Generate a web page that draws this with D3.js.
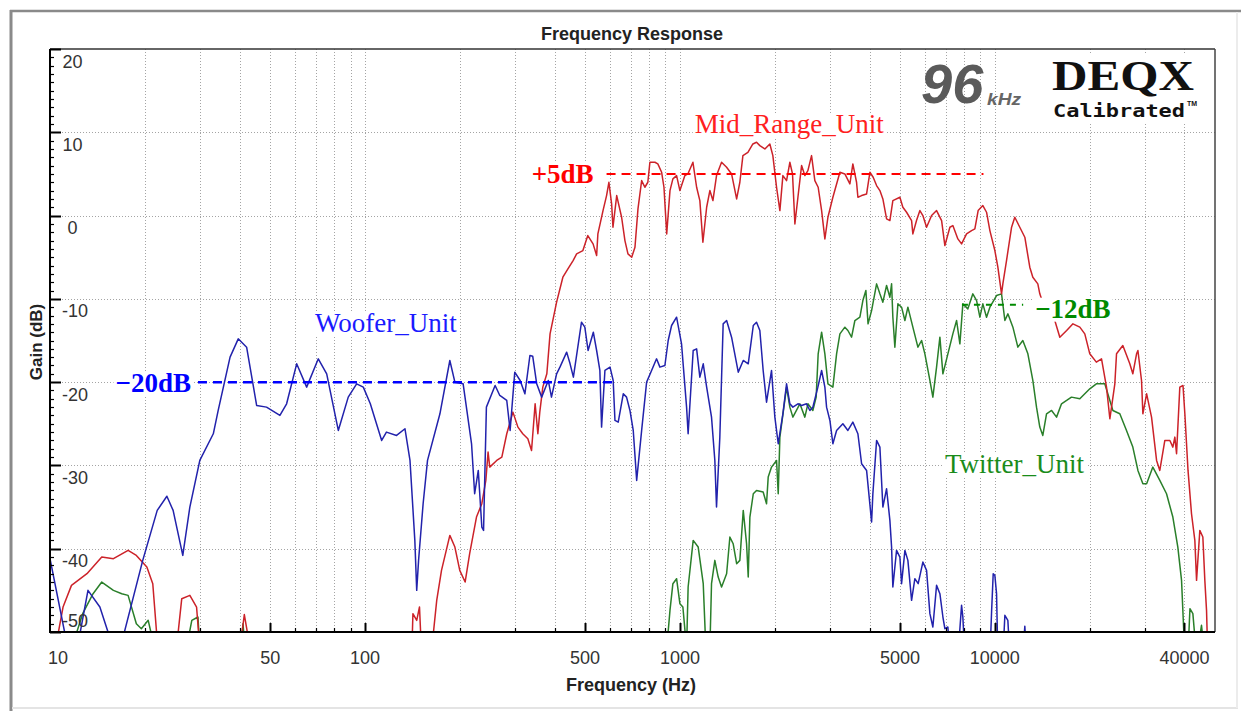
<!DOCTYPE html>
<html>
<head>
<meta charset="utf-8">
<script src="https://cdn.jsdelivr.net/npm/d3@7"></script>
<style>
  body { margin: 0; background: #fff; }
  svg { display: block; }
  text { font-family: "Liberation Sans", Arial, sans-serif; }
</style>
</head>
<body>
<svg id="chart" width="1241" height="711"></svg>
<script>
// tick labels
let freqTicks = [10, 50, 100, 500, 1000, 5000, 10000, 40000];
let gainTicks = [20, 10, 0, -10, -20, -30, -40, -50];

// measured curves: [frequency Hz, gain dB]
let woofer = [
  [10,-41.2],[11.4,-52],[12.2,-52],[13.2,-45],[14.4,-47],[15.9,-52],[16.7,-52],[19.7,-41.4],[21.9,-35.4],[23.5,-33.7],
  [24.6,-35.4],[26.4,-40.8],[27.8,-35],[29.9,-29.4],[33,-26.2],[34.2,-23.4],[37.3,-17],[39.6,-14.8],[42.1,-15.8],[45.3,-22.8],
  [48.7,-23],[53.7,-24],[56.4,-22.6],[60.7,-17.8],[65.3,-20.6],[71.1,-17.2],[75.6,-19],[82.3,-25.8],[88.5,-21.8],[94.1,-20.2],
  [98.8,-20.6],[104,-22.6],[113,-27],[117,-26],[126,-26.4],[134,-25.6],[139,-29.4],[144,-39],[146,-45],[148,-41.4],
  [153,-34.6],[158,-29.4],[173,-23.8],[186,-17.4],[193,-20],[205,-20.2],[218,-27.4],[223,-33.4],[229,-30.6],[235,-37.4],
  [238,-37.8],[240,-31.8],[243,-23],[259,-20.4],[268,-21.6],[282,-22.2],[289,-25.8],[299,-18.8],[311,-19.8],[322,-21.4],
  [334,-16.8],[341,-16.9],[351,-20.2],[364,-21.8],[382,-19.8],[391,-21.8],[406,-19],[416,-18.2],[437,-16.4],[448,-17.8],
  [459,-19.4],[487,-12.8],[499,-13.4],[511,-16.2],[531,-14],[544,-16.2],[557,-18.6],[564,-25.4],[578,-18.6],[600,-18.2],
  [614,-19.8],[622,-24.6],[637,-24.8],[661,-21.4],[677,-21.8],[694,-23.4],[711,-25.8],[729,-31.8],[756,-25.8],[784,-20],
  [813,-18.6],[843,-17.2],[864,-18.2],[896,-18],[918,-15],[941,-13.2],[976,-12.2],[1012,-15.4],[1050,-23],[1062,-26.2],
  [1102,-16.2],[1130,-16],[1157,-19.4],[1186,-17.8],[1216,-20.6],[1260,-24.2],[1291,-29.4],[1307,-35],[1339,-26.6],[1372,-13],
  [1407,-12.6],[1459,-14.6],[1532,-18.8],[1589,-17.4],[1648,-17.8],[1710,-13.2],[1751,-12.8],[1794,-13.8],[1838,-18.6],[1884,-22.4],
  [1954,-18.6],[2002,-24.2],[2052,-27.4],[2123,-23.8],[2181,-20.2],[2234,-22.6],[2284,-23],[2370,-22.6],[2434,-22.8],[2524,-22.6],
  [2586,-23.4],[2643,-23],[2742,-20.6],[2818,-18.6],[2886,-20.6],[2922,-23],[2994,-24.6],[3060,-27.4],[3144,-25.8],[3292,-25],
  [3415,-25.8],[3541,-24.8],[3674,-26.2],[3775,-29.8],[3915,-30.6],[4061,-36.8],[4099,-33.4],[4212,-27],[4315,-27.8],[4410,-35],
  [4531,-32.8],[4642,-36.6],[4700,-39.8],[4744,-44.6],[4874,-40.2],[4994,-41],[5056,-44.2],[5181,-40.2],[5295,-41.4],[5440,-46.2],
  [5572,-43.6],[5709,-44.2],[5908,-41.6],[6070,-42.6],[6219,-47.8],[6356,-49.4],[6530,-44.4],[6691,-45.4],[6840,-48.2],[6939,-49.6],
  [7094,-49.4],[7198,-53],[7631,-53],[7840,-46.8],[7914,-48.2],[8031,-53],[9643,-53],[9763,-47.6],[9880,-43],[10000,-43.2],
  [10125,-45.4],[10222,-53],[10602,-53],[10760,-48],[10997,-48.6],[11160,-53],[12270,-53],[12450,-49.3],[12600,-53],[13000,-60]
];

let midRange = [
  [10.4,-52],[11,-47],[11.7,-44.4],[13.1,-43],[14.6,-41],[15.9,-41.2],[17.7,-40.2],[18.8,-40.8],[20.3,-42.2],[21.2,-44.2],
  [22,-52],[25.2,-52],[26.2,-46],[27.8,-45.6],[29.2,-47],[29.9,-52],[40.1,-52],[41.4,-47.9],[43.2,-52],[141,-52],
  [142,-47.8],[146,-48.6],[149,-47],[151,-52],[163,-52],[169,-46.2],[175,-42.6],[186,-38.4],[193,-39.8],[200,-42.6],
  [208,-44],[215,-40.6],[226,-36.2],[235,-34.6],[242,-31.8],[246,-28.4],[249,-30.2],[262,-29.4],[272,-29],[282,-26.2],
  [295,-23.6],[306,-25.4],[317,-26.2],[329,-26.8],[338,-28.2],[347,-22.6],[354,-26.2],[359,-23.6],[367,-20.6],[378,-19],
  [387,-14.2],[406,-10.4],[425,-7.4],[441,-6.4],[458,-5.4],[470,-4.6],[492,-4.2],[510,-2.4],[530,-3.4],[544,-4.8],
  [549,-2.2],[570,0.6],[585,2.4],[595,4],[607,1.4],[613,-1.4],[630,2.4],[653,-0.2],[669,-3],[684,-4.6],
  [703,-5],[720,-3.8],[736,0.8],[756,4.2],[774,3.4],[791,4],[803,6.4],[833,6.4],[851,6.2],[875,5.2],
  [890,3.4],[908,-2.2],[930,3],[950,4.4],[976,4.8],[1000,3],[1037,4.8],[1060,5],[1100,6.4],[1130,3.4],
  [1157,1.8],[1183,-3.2],[1216,1],[1245,3],[1273,1.8],[1307,4.8],[1356,6.4],[1407,5.8],[1459,5],[1514,2],
  [1550,4],[1585,7.2],[1644,7.6],[1705,8.6],[1751,8.8],[1794,8.4],[1861,8],[1930,8.6],[1973,7.2],[2027,3.4],
  [2077,0.6],[2123,4.8],[2181,4.2],[2234,6.4],[2278,5],[2318,-1],[2370,2.2],[2434,6],[2493,4.8],[2549,5.4],
  [2618,7.2],[2682,4.2],[2748,3.4],[2818,0.6],[2886,-2.8],[2951,-0.2],[3060,2.2],[3221,5.2],[3340,5],[3465,3.8],
  [3541,6.2],[3638,4],[3674,2.2],[3775,2.4],[3915,2.6],[4011,5.2],[4108,4.6],[4212,3.6],[4315,3],[4410,2],
  [4531,-0.4],[4642,-0.6],[4744,1.8],[4994,2.2],[5104,1],[5244,0.4],[5440,-0.6],[5491,-2.2],[5640,-0.6],[5781,0.6],
  [5908,0],[6070,-1.4],[6297,0],[6530,0.6],[6775,-0.6],[6939,-3.6],[7198,-1.4],[7356,-1.2],[7631,-2.8],[7840,-3.4],
  [8131,-2.2],[8435,-1.8],[8640,-1.6],[8850,0.6],[9160,1.2],[9410,0.4],[9643,-1.8],[10000,-4.2],[10222,-6.2],[10500,-9.4],
  [10602,-8.2],[10890,-5.4],[11300,-1.4],[11570,-0.2],[12000,-1.4],[12450,-2.6],[12910,-6.2],[13200,-7.4],[13690,-8.2],[13890,-9.4],
  [14590,-11.8],[15500,-12.6],[16080,-14.6],[16900,-13.8],[17700,-13],[18610,-13.4],[19300,-14.2],[20020,-16.6],[21000,-17.6],[21810,-17.2],
  [22620,-20.6],[23180,-24.4],[24040,-20.2],[24340,-16.6],[25490,-15.6],[26820,-17.8],[27420,-19],[28180,-16.6],[28460,-16.2],[29220,-19.8],
  [29510,-23.8],[30330,-21.4],[31440,-24.2],[32620,-29.4],[33400,-30.6],[34650,-27],[35950,-27],[36740,-27.8],[37280,-26.6],[37750,-28.6],
  [38660,-20.6],[39570,-20.4],[40110,-23.8],[41050,-30.6],[42110,-35.8],[43150,-39],[43690,-43.8],[44750,-37.8],[45750,-38.6],[46420,-43.8],
  [47000,-47.4],[47440,-53],[49000,-56]
];

let twitter = [
  [11.7,-52],[12.7,-47.8],[13.7,-45.4],[14.6,-44],[15.9,-45],[16.9,-45.4],[17.7,-45.6],[18.8,-49],[19.5,-49.6],[20.5,-48.6],
  [21.5,-52],[27.1,-52],[28.2,-48.6],[29.5,-48.2],[29.9,-52],[40.4,-52],[41,-49],[41.6,-52],[908,-52],[930,-47.4],
  [950,-44.2],[976,-43.6],[1000,-46.6],[1022,-47],[1050,-52],[1062,-44.6],[1102,-39],[1143,-39.8],[1186,-44.2],[1209,-52],
  [1245,-52],[1260,-44.2],[1291,-41.4],[1323,-43.4],[1356,-44.6],[1407,-43],[1441,-38.6],[1476,-39.4],[1514,-41.8],[1550,-41.4],
  [1589,-35.4],[1628,-39.4],[1648,-43.4],[1668,-36.2],[1710,-33.4],[1751,-33],[1838,-33.2],[1884,-34.6],[1907,-31.4],[1954,-30.2],
  [2027,-29.4],[2052,-33.4],[2077,-26.6],[2181,-20.6],[2234,-23],[2284,-24.2],[2404,-22.6],[2493,-24.2],[2549,-22.6],[2643,-23.4],
  [2708,-21.8],[2748,-16.6],[2818,-14],[2886,-16.6],[2951,-20.2],[3060,-20.6],[3144,-16.6],[3221,-14.2],[3340,-13.4],[3415,-13.8],
  [3508,-14.6],[3594,-12.6],[3728,-12.2],[3810,-10.2],[3895,-9],[3957,-13],[4061,-11.4],[4212,-8.2],[4315,-9.4],[4410,-10.4],
  [4531,-8.4],[4642,-9.8],[4700,-8.2],[4744,-12.2],[4814,-15.8],[4922,-10.6],[5056,-11],[5181,-12.6],[5295,-11],[5491,-13.4],
  [5697,-15.8],[5853,-15],[5995,-16.6],[6219,-19.8],[6356,-21.8],[6530,-18.2],[6691,-14.6],[6840,-19],[7094,-16.6],[7356,-14.2],
  [7560,-12.6],[7744,-15.4],[7914,-10.6],[8210,-11.2],[8514,-9.4],[8750,-10.2],[8963,-12.2],[9160,-10.6],[9410,-12.2],[9643,-11],
  [10125,-9.6],[10500,-9.4],[10760,-12.6],[11000,-11.8],[11410,-13.4],[11830,-15.8],[12270,-15],[12730,-16.6],[13200,-19.8],[13560,-23],
  [13890,-25.4],[14200,-26.4],[14590,-23.8],[15140,-23.4],[15700,-24.2],[16280,-22.6],[16900,-22.2],[17510,-21.8],[18610,-22],[19300,-21.4],
  [20020,-20.8],[21000,-20.2],[22340,-20.2],[23180,-22.2],[23700,-23.4],[24930,-23.8],[26180,-25.8],[27420,-27.8],[28460,-30.6],[29510,-32.2],
  [30330,-32.2],[31740,-30.2],[33400,-31.8],[35080,-33.4],[36740,-36.2],[38100,-39.8],[39150,-43.8],[39570,-47.8],[40110,-53],[41000,-53],
  [41630,-47.2],[42530,-47.8],[43690,-53],[45300,-49.2],[46420,-53],[48000,-56]
];

// hand-drawn reference levels
let markerLabels = ["+5dB", "\u221220dB", "\u221212dB"];
let markerLevels = [5, -20, -10.7];
let markerFrom = [585, 29.5, 7860];
let markerTo = [9200, 615, 12300];

// unit names and where they sit (Hz, dB)
let unitNames = ["Woofer_Unit", "Mid_Range_Unit", "Twitter_Unit"];
let unitFreq = [69.4, 1115, 6940];
let unitGain = [-14, 9.9, -30.9];

function renderChart() {
    let svg = d3.select("#chart");
    svg.selectAll("*").remove();

    let left = 50, top = 49, right = 1215, bottom = 632;

    let xScale = d3.scaleLog().domain([10, 50000]).range([left, right]);
    let yScale = d3.scaleLinear().domain([-50, 20]).range([bottom, top]);

    // window frame
    svg.append("line").attr("x1", 10).attr("y1", 11).attr("x2", 1241).attr("y2", 11)
        .attr("stroke", "#8a8a8a").attr("stroke-width", 2.5);
    svg.append("line").attr("x1", 11).attr("y1", 10).attr("x2", 11).attr("y2", 711)
        .attr("stroke", "#8a8a8a").attr("stroke-width", 3);
    svg.append("line").attr("x1", 12).attr("y1", 708).attr("x2", 1238).attr("y2", 708)
        .attr("stroke", "#e4e4e4").attr("stroke-width", 2);
    svg.append("line").attr("x1", 1237).attr("y1", 12).attr("x2", 1237).attr("y2", 708)
        .attr("stroke", "#ececec").attr("stroke-width", 2);

    svg.append("text")
        .attr("x", 632).attr("y", 40)
        .attr("font-size", "18px").attr("font-weight", "bold").attr("fill", "#222")
        .style("text-anchor", "middle")
        .text("Frequency Response");

    // grid
    let gridX = xScale.ticks().filter(d => d > 10 && d < 50000);
    svg.append("g").selectAll("line")
        .data(gridX).enter().append("line")
        .attr("x1", d => Math.round(xScale(d)) + 0.5).attr("x2", d => Math.round(xScale(d)) + 0.5)
        .attr("y1", top).attr("y2", bottom)
        .attr("stroke", "#a4a4a4").attr("stroke-dasharray", "1,2");

    svg.append("g").selectAll("line")
        .data(gainTicks.filter(d => d > -50 && d < 20)).enter().append("line")
        .attr("x1", left).attr("x2", right)
        .attr("y1", d => Math.round(yScale(d)) + 0.5).attr("y2", d => Math.round(yScale(d)) + 0.5)
        .attr("stroke", "#a4a4a4").attr("stroke-dasharray", "1,2");

    // curves
    svg.append("clipPath").attr("id", "plot-clip")
        .append("rect").attr("x", left).attr("y", top)
        .attr("width", right - left).attr("height", bottom - top);

    let line = d3.line()
        .x(d => xScale(d[0]))
        .y(d => yScale(d[1]));

    let curves = [
        { data: twitter, color: "#2a7f2a" },
        { data: midRange, color: "#cc2229" },
        { data: woofer, color: "#2222ac" }
    ];

    svg.append("g").attr("clip-path", "url(#plot-clip)")
        .selectAll("path")
        .data(curves).enter().append("path")
        .attr("d", d => line(d.data))
        .attr("fill", "none")
        .attr("stroke", d => d.color)
        .attr("stroke-width", 1.5)
        .attr("stroke-linejoin", "round");

    // frame of the plot
    svg.append("line").attr("x1", left).attr("y1", top).attr("x2", right).attr("y2", top)
        .attr("stroke", "#333").attr("stroke-width", 1.5);
    svg.append("line").attr("x1", right).attr("y1", top).attr("x2", right).attr("y2", bottom)
        .attr("stroke", "#444").attr("stroke-width", 1.5);
    svg.append("line").attr("x1", left).attr("y1", top).attr("x2", left).attr("y2", bottom + 1)
        .attr("stroke", "#000").attr("stroke-width", 2);
    svg.append("line").attr("x1", left - 1).attr("y1", bottom).attr("x2", right).attr("y2", bottom)
        .attr("stroke", "#000").attr("stroke-width", 2);

    // y ticks
    svg.append("g").selectAll("line")
        .data(d3.range(-50, 21, 1)).enter().append("line")
        .attr("x1", left)
        .attr("x2", d => d % 10 == 0 ? left + 11 : left + 4)
        .attr("y1", d => Math.round(yScale(d)) + 0.5)
        .attr("y2", d => Math.round(yScale(d)) + 0.5)
        .attr("stroke", "#000").attr("stroke-width", d => d % 10 == 0 ? 2 : 1.2);

    svg.append("g").selectAll("text")
        .data(gainTicks).enter().append("text")
        .attr("x", d => d < 0 ? 62 : 72.5)
        .attr("y", d => d == -50 ? 627 : yScale(d) + 18.5)
        .attr("font-size", "18px").attr("fill", "#333")
        .style("text-anchor", d => d < 0 ? "start" : "middle")
        .text(d => d);

    // x ticks
    svg.append("g").selectAll("line")
        .data(gridX).enter().append("line")
        .attr("x1", d => Math.round(xScale(d)) + 0.5).attr("x2", d => Math.round(xScale(d)) + 0.5)
        .attr("y1", bottom)
        .attr("y2", d => freqTicks.includes(d) ? bottom - 9 : bottom - 4)
        .attr("stroke", "#000").attr("stroke-width", d => freqTicks.includes(d) ? 2 : 1.2);

    svg.append("g").selectAll("text")
        .data(freqTicks).enter().append("text")
        .attr("x", d => d == 10 ? 48 : xScale(d))
        .attr("y", 664)
        .attr("font-size", "18px").attr("fill", "#333")
        .style("text-anchor", d => d == 10 ? "start" : "middle")
        .text(d => d);

    svg.append("text")
        .attr("x", 631).attr("y", 691)
        .attr("font-size", "18px").attr("font-weight", "bold").attr("fill", "#222")
        .style("text-anchor", "middle")
        .text("Frequency (Hz)");

    svg.append("text")
        .attr("transform", "translate(42,342) rotate(-90)")
        .attr("font-size", "17px").attr("font-weight", "bold").attr("fill", "#222")
        .style("text-anchor", "middle")
        .text("Gain (dB)");

    // logo
    svg.append("rect").attr("x", 1045).attr("y", 54).attr("width", 165).attr("height", 70).attr("fill", "#fff");
    svg.append("text")
        .attr("x", 921).attr("y", 103)
        .attr("font-size", "56px").attr("font-weight", "bold").attr("font-style", "italic")
        .attr("fill", "#5a5a5a")
        .text("96");
    svg.append("text")
        .attr("x", 987).attr("y", 105)
        .attr("font-size", "16px").attr("font-weight", "bold").attr("font-style", "italic")
        .attr("fill", "#666").attr("textLength", 34).attr("lengthAdjust", "spacingAndGlyphs")
        .text("kHz");
    svg.append("text")
        .attr("x", 1052).attr("y", 90)
        .style("font-family", "'Liberation Serif', 'Times New Roman', serif")
        .attr("font-size", "42px").attr("font-weight", "bold").attr("fill", "#111")
        .attr("textLength", 142).attr("lengthAdjust", "spacingAndGlyphs")
        .text("DEQX");
    svg.append("text")
        .attr("x", 1053).attr("y", 117)
        .style("font-family", "'DejaVu Sans Mono', monospace")
        .attr("font-size", "18px").attr("font-weight", "bold").attr("fill", "#111")
        .attr("textLength", 132).attr("lengthAdjust", "spacingAndGlyphs")
        .text("Calibrated");
    svg.append("text")
        .attr("x", 1187).attr("y", 106)
        .attr("font-size", "7px").attr("font-weight", "bold").attr("fill", "#111")
        .text("TM");

    // reference levels
    let markerColors = ["#ff0000", "#0000ff", "#008a00"];
    let markerDash = ["9,6", "9,6", "6,6"];
    let markerWidth = [2, 2.5, 2];

    markerLevels.forEach((level, i) => {
        svg.append("line")
            .attr("x1", xScale(markerFrom[i])).attr("x2", xScale(markerTo[i]))
            .attr("y1", yScale(level)).attr("y2", yScale(level))
            .attr("stroke", markerColors[i])
            .attr("stroke-width", markerWidth[i])
            .attr("stroke-dasharray", markerDash[i]);
    });

    let serif = "'Liberation Serif', 'Times New Roman', serif";

    // text with a white patch behind it
    function addLabel(x, y, str, color, anchor, bold) {
        let t = svg.append("text")
            .attr("x", x).attr("y", y)
            .style("font-family", serif)
            .attr("font-size", "27px")
            .attr("font-weight", bold ? "bold" : "normal")
            .attr("fill", color)
            .style("text-anchor", anchor)
            .text(str);
        let b = t.node().getBBox();
        svg.insert("rect", () => t.node())
            .attr("x", b.x - 2).attr("y", b.y + 4)
            .attr("width", b.width + 4).attr("height", b.height - 6)
            .attr("fill", "#fff");
    }

    addLabel(xScale(markerFrom[0]) - 13, yScale(markerLevels[0]) + 9, markerLabels[0], markerColors[0], "end", true);
    addLabel(xScale(markerFrom[1]) - 7, yScale(markerLevels[1]) + 10, markerLabels[1], markerColors[1], "end", true);
    addLabel(xScale(markerTo[2]) + 12, yScale(markerLevels[2]) + 13, markerLabels[2], markerColors[2], "start", true);

    let unitColors = ["#1a1aff", "#ff2020", "#1a8c1a"];
    unitNames.forEach((name, i) => {
        addLabel(xScale(unitFreq[i]), yScale(unitGain[i]), name, unitColors[i], "start", false);
    });
}

document.addEventListener('DOMContentLoaded', (event) => {
    renderChart();
});
</script>
</body>
</html>
